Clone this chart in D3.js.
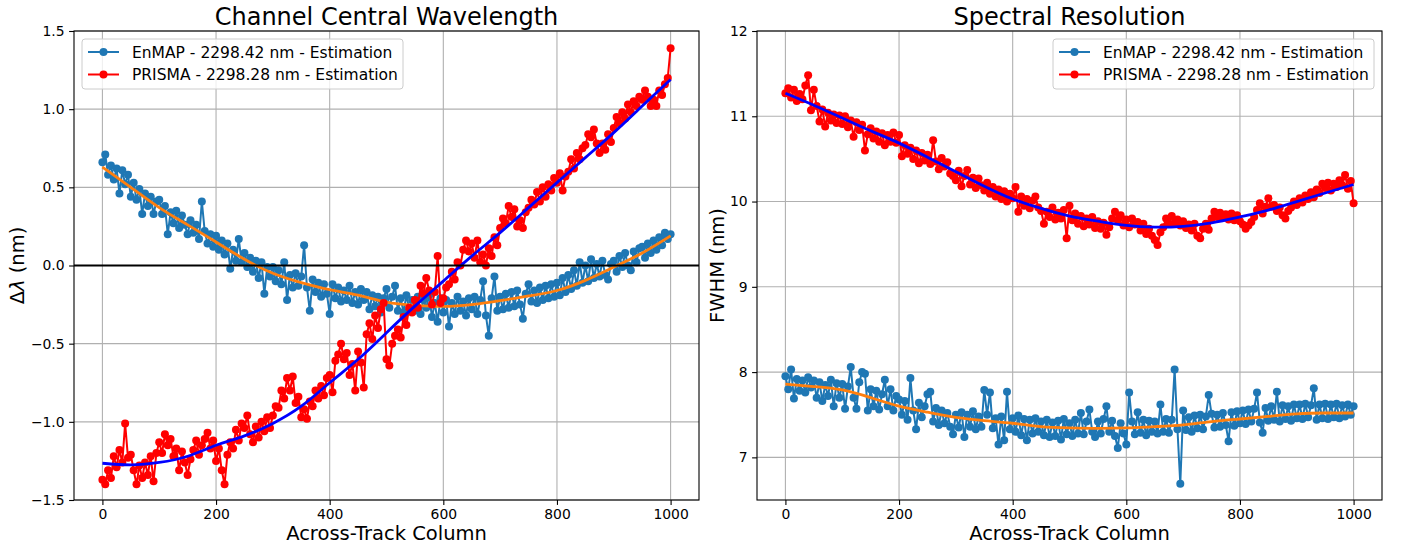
<!DOCTYPE html>
<html>
<head>
<meta charset="utf-8">
<script src="https://cdn.jsdelivr.net/npm/d3@7/dist/d3.min.js"></script>
<style>
body { margin: 0; background: #fff; }
text { font-family: "DejaVu Sans", sans-serif; fill: #000; }
</style>
</head>
<body>
<svg id="fig" width="1402" height="550"></svg>
<script>
// across-track columns (every 5th column) and fit knots
var columns = d3.range(0, 1001, 5);
var fitColumns = d3.range(0, 1001, 50);
var xTicks = [0, 200, 400, 600, 800, 1000];

var seriesNames = ["EnMAP - 2298.42 nm - Estimation", "PRISMA - 2298.28 nm - Estimation"];

// Channel central wavelength shift (nm)
var enmapShift = [
  0.66, 0.71, 0.58, 0.64, 0.55, 0.62, 0.46, 0.61, 0.52, 0.58,
  0.44, 0.53, 0.42, 0.49, 0.33, 0.46, 0.38, 0.44, 0.33, 0.41,
  0.42, 0.33, 0.38, 0.20, 0.34, 0.27, 0.35, 0.24, 0.32, 0.26,
  0.20, 0.29, 0.21, 0.26, 0.17, 0.41, 0.22, 0.14, 0.20, 0.12,
  0.19, 0.10, 0.16, 0.07, 0.14, -0.02, 0.10, 0.03, 0.17, 0.02,
  0.08, -0.01, 0.05, -0.04, 0.03, -0.08, 0.02, -0.18, -0.01, -0.07,
  -0.01, -0.10, -0.03, -0.12, 0.02, -0.22, -0.06, -0.14, -0.05, -0.13,
  -0.07, 0.13, -0.14, -0.29, -0.09, -0.17, -0.11, -0.20, -0.12, -0.18,
  -0.31, -0.12, -0.21, -0.14, -0.23, -0.16, -0.22, -0.13, -0.24, -0.17,
  -0.25, -0.15, -0.22, -0.17, -0.28, -0.19, -0.26, -0.20, -0.30, -0.21,
  -0.15, -0.27, -0.20, -0.13, -0.29, -0.21, -0.30, -0.19, -0.28, -0.22,
  -0.29, -0.20, -0.31, -0.22, -0.27, -0.19, -0.33, -0.24, -0.36, -0.21,
  -0.30, -0.22, -0.39, -0.24, -0.31, -0.20, -0.29, -0.23, -0.32, -0.21,
  -0.28, -0.20, -0.31, -0.22, -0.10, -0.32, -0.45, -0.21, -0.07, -0.29,
  -0.20, -0.28, -0.18, -0.27, -0.17, -0.26, -0.16, -0.25, -0.34, -0.18,
  -0.12, -0.23, -0.16, -0.24, -0.14, -0.22, -0.13, -0.21, -0.12, -0.20,
  -0.11, -0.19, -0.08, -0.17, -0.06, -0.15, -0.03, -0.13, 0.02, -0.11,
  0.00, -0.10, 0.04, -0.08, 0.01, -0.07, 0.03, -0.06, -0.09, 0.01,
  0.03, -0.04, 0.06, -0.01, 0.08, 0.00, -0.03, 0.09, 0.02, 0.11,
  0.12, 0.05, 0.14, 0.08, 0.16, 0.10, 0.18, 0.13, 0.21, 0.17,
  0.20
];
var prismaShift = [
  -1.37, -1.40, -1.31, -1.36, -1.22, -1.29, -1.18, -1.26, -1.01, -1.23,
  -1.21, -1.31, -1.40, -1.28, -1.36, -1.26, -1.34, -1.22, -1.38, -1.20,
  -1.13, -1.20, -1.08, -1.15, -1.11, -1.22, -1.17, -1.31, -1.19, -1.26,
  -1.34, -1.24, -1.18, -1.12, -1.21, -1.15, -1.11, -1.07, -1.17, -1.12,
  -1.25, -1.17, -1.31, -1.40, -1.21, -1.13, -1.17, -1.05, -1.12, -1.01,
  -1.04, -0.96, -1.08, -1.13, -1.03, -1.10, -1.00, -1.06, -0.97, -1.04,
  -0.96, -0.90, -0.91, -0.80, -0.85, -0.72, -0.80, -0.71, -0.88, -0.84,
  -0.97, -0.92, -0.98, -0.87, -0.90, -0.80, -0.85, -0.77, -0.83, -0.72,
  -0.70, -0.81, -0.61, -0.57, -0.50, -0.60, -0.56, -0.70, -0.63, -0.80,
  -0.55, -0.62, -0.78, -0.44, -0.37, -0.47, -0.32, -0.40, -0.28, -0.24,
  -0.60, -0.64, -0.50, -0.45, -0.41, -0.46, -0.33, -0.38, -0.27, -0.30,
  -0.22, -0.27, -0.13, -0.18, -0.08, -0.16, -0.25, -0.17, 0.06, -0.24,
  -0.21, -0.14, -0.12, -0.04, -0.09, 0.02, 0.00, 0.10, 0.16, 0.09,
  0.14, 0.05, 0.16, 0.02, 0.07, 0.00, 0.11, 0.06, 0.18, 0.13,
  0.24, 0.30, 0.27, 0.38, 0.31, 0.36, 0.25, 0.29, 0.24, 0.34,
  0.37, 0.42, 0.39, 0.47, 0.41, 0.50, 0.44, 0.52, 0.48, 0.56,
  0.53, 0.59, 0.48, 0.57, 0.60, 0.68, 0.62, 0.72, 0.68, 0.75,
  0.77, 0.84, 0.82, 0.87, 0.78, 0.72, 0.78, 0.74, 0.84, 0.79,
  0.88, 0.95, 0.91, 0.98, 0.94, 1.03, 0.98, 1.05, 1.02, 1.08,
  1.06, 1.12, 1.08, 1.02, 1.06, 1.02, 1.12, 1.09, 1.16, 1.20,
  1.39
];
var enmapShiftFit = [0.63, 0.50, 0.37, 0.26, 0.15, 0.04, -0.05, -0.11, -0.155, -0.19, -0.235,
  -0.255, -0.262, -0.25, -0.225, -0.195, -0.16, -0.095, -0.01, 0.08, 0.19];
var prismaShiftFit = [-1.265, -1.275, -1.26, -1.22, -1.15, -1.09, -1.01, -0.90, -0.75, -0.60, -0.43,
  -0.26, -0.10, 0.06, 0.21, 0.37, 0.53, 0.69, 0.85, 1.02, 1.19];

// Spectral resolution (FWHM, nm)
var enmapFwhm = [
  7.95, 7.80, 8.03, 7.69, 7.92, 7.78, 7.90, 7.76, 7.94, 7.82,
  7.90, 7.70, 7.88, 7.66, 7.85, 7.72, 7.91, 7.60, 7.87, 7.70,
  7.86, 7.57, 7.83, 8.06, 7.70, 7.57, 7.88, 8.00, 7.98, 7.55,
  7.80, 7.60, 7.78, 7.56, 7.74, 7.91, 7.60, 7.80, 7.55, 7.72,
  7.68, 7.50, 7.66, 7.44, 7.93, 7.55, 7.33, 7.64, 7.47, 7.60,
  7.74, 7.77, 7.42, 7.58, 7.38, 7.55, 7.40, 7.52, 7.36, 7.27,
  7.50, 7.35, 7.53, 7.24, 7.50, 7.36, 7.54, 7.33, 7.48, 7.36,
  7.79, 7.50, 7.76, 7.34, 7.46, 7.15, 7.48, 7.20, 7.77, 7.33,
  7.46, 7.30, 7.49, 7.26, 7.45, 7.20, 7.44, 7.28, 7.46, 7.30,
  7.42, 7.26, 7.44, 7.24, 7.41, 7.25, 7.43, 7.21, 7.45, 7.27,
  7.40, 7.25, 7.44, 7.28, 7.52, 7.27, 7.42, 7.56, 7.30, 7.24,
  7.42, 7.28, 7.45, 7.60, 7.30, 7.43, 7.25, 7.11, 7.40, 7.28,
  7.15, 7.76, 7.42, 7.27, 7.53, 7.29, 7.44, 7.26, 7.43, 7.30,
  7.42, 7.28, 7.62, 7.30, 7.45, 7.29, 7.44, 8.03, 7.33, 6.69,
  7.55, 7.32, 7.47, 7.30, 7.49, 7.34, 7.50, 7.33, 7.48, 7.73,
  7.51, 7.35, 7.50, 7.36, 7.52, 7.38, 7.19, 7.53, 7.37, 7.54,
  7.40, 7.55, 7.39, 7.56, 7.42, 7.57, 7.76, 7.41, 7.29, 7.58,
  7.43, 7.60, 7.44, 7.77, 7.42, 7.61, 7.45, 7.60, 7.43, 7.62,
  7.46, 7.62, 7.45, 7.63, 7.47, 7.61, 7.81, 7.44, 7.62, 7.46,
  7.63, 7.45, 7.62, 7.47, 7.63, 7.46, 7.61, 7.48, 7.62, 7.50,
  7.60
];
var prismaFwhm = [
  11.27, 11.33, 11.22, 11.31, 11.18, 11.26, 11.20, 11.36, 11.48, 11.07,
  11.31, 11.12, 10.94, 11.08, 10.88, 11.04, 10.95, 11.02, 10.92, 11.01,
  10.91, 11.00, 10.87, 10.95, 10.76, 10.93, 10.84, 10.90, 10.60, 10.79,
  10.86, 10.74, 10.82, 10.70, 10.80, 10.66, 10.78, 10.70, 10.81, 10.69,
  10.78, 10.53, 10.66, 10.56, 10.63, 10.50, 10.60, 10.45, 10.57, 10.48,
  10.55, 10.44, 10.72, 10.47, 10.38, 10.51, 10.41, 10.46, 10.33, 10.30,
  10.25, 10.36, 10.18, 10.30, 10.37, 10.20, 10.28, 10.16, 10.27, 10.19,
  10.13, 10.22, 10.09, 10.17, 10.06, 10.14, 10.03, 10.12, 10.00, 10.09,
  10.04, 10.17, 9.88, 10.06, 9.95, 10.03, 9.92, 10.01, 10.06, 9.93,
  9.89, 9.74, 9.88, 9.82, 9.93, 9.79, 9.87, 9.80, 9.90, 9.57,
  9.95, 9.78, 9.86, 9.74, 9.83, 9.71, 9.80, 9.73, 9.82, 9.69,
  9.77, 9.68, 9.75, 9.61, 9.70, 9.80, 9.88, 9.78, 9.84, 9.72,
  9.79, 9.70, 9.80, 9.73, 9.76, 9.66, 9.74, 9.62, 9.68, 9.60,
  9.55, 9.49, 9.64, 9.70, 9.80, 9.74, 9.83, 9.75, 9.79, 9.72,
  9.77, 9.69, 9.73, 9.66, 9.74, 9.60, 9.57, 9.68, 9.74, 9.67,
  9.80, 9.88, 9.82, 9.87, 9.81, 9.85, 9.79, 9.86, 9.78, 9.84,
  9.77, 9.73, 9.68, 9.72, 9.76, 9.82, 9.90, 9.98, 9.86, 9.94,
  10.04, 9.94, 9.96, 9.89, 9.93, 9.84, 9.80, 9.89, 9.93, 10.00,
  9.96, 10.04, 9.99, 10.07, 10.03, 10.11, 10.05, 10.14, 10.10, 10.21,
  10.16, 10.22, 10.13, 10.21, 10.17, 10.25, 10.19, 10.31, 10.15, 10.24,
  9.98
];
var enmapFwhmFit = [7.86, 7.83, 7.79, 7.70, 7.60, 7.53, 7.47, 7.43, 7.40, 7.36, 7.345,
  7.34, 7.345, 7.36, 7.38, 7.42, 7.45, 7.48, 7.51, 7.52, 7.52];
var prismaFwhmFit = [11.27, 11.13, 10.98, 10.83, 10.685, 10.52, 10.35, 10.18, 10.03, 9.92, 9.83,
  9.77, 9.72, 9.70, 9.71, 9.75, 9.82, 9.90, 10.00, 10.10, 10.20];

var shiftTicks = [-1.5, -1.0, -0.5, 0.0, 0.5, 1.0, 1.5];
var fwhmTicks = [7, 8, 9, 10, 11, 12];

var C_ENMAP = "#1f77b4", C_ENFIT = "#ff7f0e", C_PRISMA = "#ff0000", C_PRFIT = "#0000ff";

var svg = d3.select("#fig");

function drawPanel(p) {
  var x = d3.scaleLinear().domain([-50, 1050]).range([p.left, p.right]);
  var y = d3.scaleLinear().domain(p.ydom).range([p.bottom, p.top]);
  var g = svg.append("g");
  var clipId = "clip" + p.id;
  g.append("clipPath").attr("id", clipId).append("rect")
    .attr("x", p.left).attr("y", p.top)
    .attr("width", p.right - p.left).attr("height", p.bottom - p.top);

  // grid
  g.append("g").selectAll("line").data(xTicks).enter().append("line")
    .attr("x1", d => x(d)).attr("x2", d => x(d))
    .attr("y1", p.top).attr("y2", p.bottom)
    .attr("stroke", "#b0b0b0").attr("stroke-width", 1.1);
  g.append("g").selectAll("line").data(p.yticks).enter().append("line")
    .attr("x1", p.left).attr("x2", p.right)
    .attr("y1", d => y(d)).attr("y2", d => y(d))
    .attr("stroke", "#b0b0b0").attr("stroke-width", 1.1);

  var plot = g.append("g").attr("clip-path", "url(#" + clipId + ")");
  var line = d3.line().x((d, i) => x(columns[i])).y(d => y(d));
  var fitLine = d3.line().x((d, i) => x(fitColumns[i])).y(d => y(d)).curve(d3.curveNatural);

  function scatter(vals, color) {
    plot.append("path").datum(vals).attr("d", line)
      .attr("fill", "none").attr("stroke", color).attr("stroke-width", 2);
    plot.append("g").selectAll("circle").data(vals).enter().append("circle")
      .attr("cx", (d, i) => x(columns[i])).attr("cy", d => y(d))
      .attr("r", 4).attr("fill", color);
  }
  function fit(vals, color) {
    plot.append("path").datum(vals).attr("d", fitLine)
      .attr("fill", "none").attr("stroke", color).attr("stroke-width", 2.8);
  }
  scatter(p.enmap, C_ENMAP);
  fit(p.enmapFit, C_ENFIT);
  scatter(p.prisma, C_PRISMA);
  fit(p.prismaFit, C_PRFIT);
  if (p.zero) {
    plot.append("line").attr("x1", p.left).attr("x2", p.right)
      .attr("y1", y(0)).attr("y2", y(0))
      .attr("stroke", "#000").attr("stroke-width", 2);
  }

  // axes
  var xAxis = g.append("g").attr("transform", "translate(0," + p.bottom + ")")
    .call(d3.axisBottom(x).tickValues(xTicks).tickSize(4.9).tickPadding(4.5).tickFormat(d3.format("d")));
  var yAxis = g.append("g").attr("transform", "translate(" + p.left + ",0)")
    .call(d3.axisLeft(y).tickValues(p.yticks).tickSize(4.9).tickPadding(4.5).tickFormat(p.fmt));
  [xAxis, yAxis].forEach(function(a) {
    a.select(".domain").remove();
    a.selectAll(".tick line").attr("stroke", "#000").attr("stroke-width", 1.1);
    a.selectAll(".tick text").attr("font-size", "13.9px")
      .attr("font-family", "DejaVu Sans").attr("fill", "#000");
  });

  g.append("rect").attr("x", p.left).attr("y", p.top)
    .attr("width", p.right - p.left).attr("height", p.bottom - p.top)
    .attr("fill", "none").attr("stroke", "#000").attr("stroke-width", 1.1);

  // titles and labels
  g.append("text").attr("x", (p.left + p.right) / 2).attr("y", 25)
    .attr("text-anchor", "middle").attr("font-size", "24px").text(p.title);
  g.append("text").attr("x", (p.left + p.right) / 2).attr("y", 540)
    .attr("text-anchor", "middle").attr("font-size", "19.5px").text("Across-Track Column");
  var yl = g.append("text")
    .attr("transform", "translate(" + p.ylabX + "," + ((p.top + p.bottom) / 2) + ") rotate(-90)")
    .attr("text-anchor", "middle").attr("font-size", "19.5px");
  p.ylabel(yl);

  // legend
  var lg = g.append("g").attr("transform", "translate(" + p.legX + ",39)");
  lg.append("rect").attr("width", 321).attr("height", 50).attr("rx", 3)
    .attr("fill", "#fff").attr("fill-opacity", 0.8)
    .attr("stroke", "#cccccc").attr("stroke-width", 1);
  [C_ENMAP, C_PRISMA].forEach(function(c, i) {
    var yy = 13 + i * 22.5;
    lg.append("line").attr("x1", 6).attr("x2", 37).attr("y1", yy).attr("y2", yy)
      .attr("stroke", c).attr("stroke-width", 2);
    lg.append("circle").attr("cx", 21.5).attr("cy", yy).attr("r", 4).attr("fill", c);
    lg.append("text").attr("x", 50).attr("y", yy + 5.5).attr("font-size", "15.5px").text(seriesNames[i]);
  });
}

drawPanel({
  id: 1, left: 74, right: 699, top: 31, bottom: 500,
  ydom: [-1.5, 1.5], yticks: shiftTicks,
  fmt: function(d) { return d3.format(".1f")(d).replace("-", "\u2212"); },
  title: "Channel Central Wavelength", ylabX: 24, legX: 82,
  ylabel: function(t) {
    t.append("tspan").text("\u0394");
    t.append("tspan").attr("font-style", "italic").text("\u03bb");
    t.append("tspan").text(" (nm)");
  },
  enmap: enmapShift, prisma: prismaShift, enmapFit: enmapShiftFit, prismaFit: prismaShiftFit,
  zero: true
});

drawPanel({
  id: 2, left: 757, right: 1382, top: 31, bottom: 500,
  ydom: [6.5, 12], yticks: fwhmTicks,
  fmt: d3.format("d"),
  title: "Spectral Resolution", ylabX: 724, legX: 1053,
  ylabel: function(t) { t.text("FWHM (nm)"); },
  enmap: enmapFwhm, prisma: prismaFwhm, enmapFit: enmapFwhmFit, prismaFit: prismaFwhmFit,
  zero: false
});
</script>
</body>
</html>
